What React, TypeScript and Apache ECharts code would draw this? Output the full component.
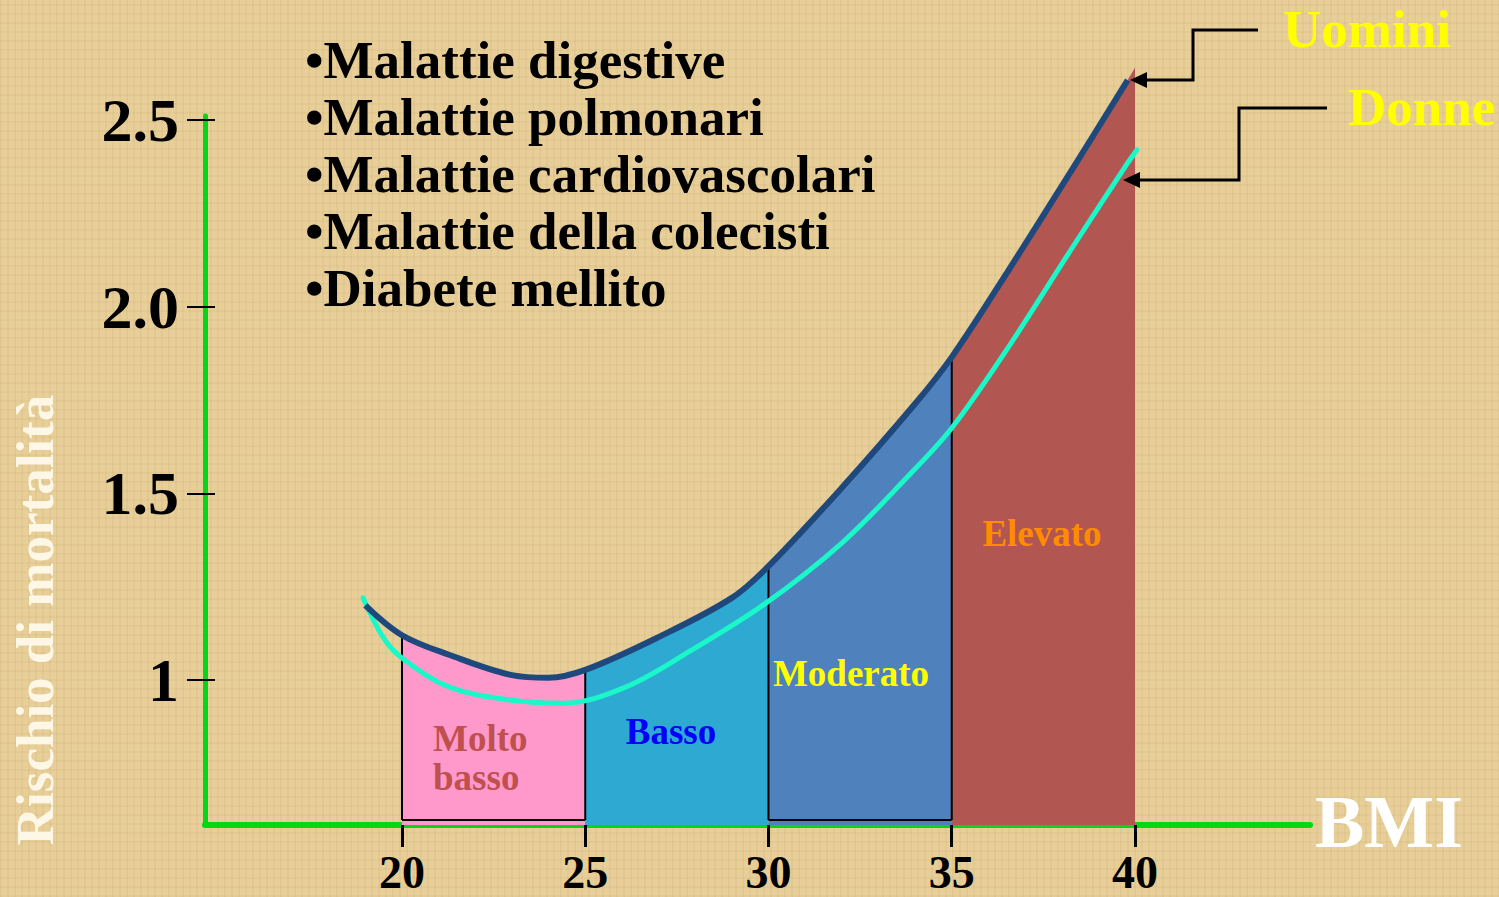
import React, { useEffect, useRef } from "react";
import * as echarts from "echarts";

// ---- data ----
const xTicks = [20, 25, 30, 35, 40];
const yTicks = [1, 1.5, 2, 2.5];

const bmiUomini = [19, 20, 21.3, 23, 24, 25, 27, 29, 30, 32, 34, 35, 36.5, 38.3, 39.8];
const rischioUomini = [1.2, 1.12, 1.067, 1.013, 1.006, 1.027, 1.115, 1.22, 1.305, 1.515, 1.74, 1.865, 2.09, 2.37, 2.607];

const bmiDonne = [18.94, 19.5, 20, 21.3, 23, 24.4, 26.1, 27.9, 29.9, 32, 33.8, 35, 36.5, 38.3, 39.8, 40.05];
const rischioDonne = [1.22, 1.112, 1.059, 0.981, 0.946, 0.938, 0.981, 1.08, 1.204, 1.367, 1.545, 1.675, 1.885, 2.16, 2.385, 2.42];

const bandEdges = [20, 25, 30, 35, 40];
const bandNames = ["Molto basso", "Basso", "Moderato", "Elevato"];
const bandColors = ["#FF99CC", "#2EAAD2", "#4F81BD", "#B15650"];
const elevatoTip = 2.64;
const baseLevel = 0.625;

const serif = '"Liberation Serif", "Times New Roman", serif';
const SMOOTH = 0.35;

function buildOption() {
  const uPts = bmiUomini.map((x, i) => [x, rischioUomini[i]]);
  const dPts = bmiDonne.map((x, i) => [x, rischioDonne[i]]);

  const bandSeries = bandNames.map((name, i) => {
    const lo = bandEdges[i];
    const hi = bandEdges[i + 1];
    const pts = uPts.filter((p) => p[0] >= lo && p[0] <= hi);
    if (i === bandNames.length - 1) pts.push([hi, elevatoTip]);
    return {
      name,
      type: "line",
      data: pts,
      smooth: SMOOTH,
      symbol: "none",
      clip: false,
      lineStyle: { width: 0, color: bandColors[i] },
      areaStyle: { color: bandColors[i], opacity: 1, origin: "start" },
      z: 1,
      silent: true,
    };
  });

  const borderSeries = bandEdges.slice(0, 4).map((x) => {
    const idx = bmiUomini.indexOf(x);
    return {
      type: "line",
      data: [
        [x, baseLevel],
        [x, rischioUomini[idx]],
      ],
      symbol: "none",
      clip: false,
      lineStyle: { color: "#000", width: 2 },
      z: 2,
      silent: true,
    };
  });

  const bottomBorders = [
    [[20, baseLevel], [25, baseLevel]],
    [[30, baseLevel], [35, baseLevel]],
  ].map((d) => ({
    type: "line",
    data: d,
    symbol: "none",
    lineStyle: { color: "#000", width: 2 },
    z: 2,
    silent: true,
  }));

  const axisBase = {
    type: "value",
    min: 0.6116,
    max: 2.5109,
    splitLine: { show: false },
  };

  return {
    animation: false,
    backgroundColor: "transparent",
    grid: { left: 205, right: 189, top: 116, bottom: 72 },
    xAxis: {
      type: "value",
      min: 14.625,
      max: 44.775,
      splitLine: { show: false },
      axisLine: { show: true, onZero: false, lineStyle: { color: "#06D615", width: 6 } },
      axisTick: { show: true, customValues: xTicks, length: 22, lineStyle: { color: "#000", width: 3 } },
      axisLabel: {
        customValues: xTicks,
        color: "#000",
        fontFamily: serif,
        fontWeight: "bold",
        fontSize: 46,
        margin: 24,
      },
    },
    yAxis: [
      {
        ...axisBase,
        axisLine: { show: true, onZero: false, lineStyle: { color: "#06D615", width: 5 } },
        axisTick: { show: true, customValues: yTicks, length: 18, lineStyle: { color: "#000", width: 2 } },
        axisLabel: {
          customValues: yTicks,
          formatter: (v: number) => (v === 1 ? "1" : v.toFixed(1)),
          color: "#000",
          fontFamily: serif,
          fontWeight: "bold",
          fontSize: 62,
          margin: 26,
        },
      },
      {
        ...axisBase,
        position: "left",
        axisLine: { show: false, onZero: false },
        axisTick: { show: true, inside: true, customValues: yTicks, length: 10, lineStyle: { color: "#000", width: 2 } },
        axisLabel: { show: false },
      },
    ],
    series: [
      ...bandSeries,
      ...borderSeries,
      ...bottomBorders,
      {
        name: "Donne",
        type: "line",
        data: dPts,
        smooth: SMOOTH,
        symbol: "none",
        clip: false,
        lineStyle: { color: "#1AF7C9", width: 5, cap: "round" },
        z: 3,
      },
      {
        name: "Uomini",
        type: "line",
        data: uPts,
        smooth: SMOOTH,
        symbol: "none",
        clip: false,
        lineStyle: { color: "#1F497D", width: 6 },
        z: 4,
      },
    ],
    graphic: [
      ...[
        "•Malattie digestive",
        "•Malattie polmonari",
        "•Malattie cardiovascolari",
        "•Malattie della colecisti",
        "•Diabete mellito",
      ].map((t, i) => ({
        type: "text",
        x: 305,
        y: 60 + i * 57,
        style: { text: t, fill: "#000", font: `bold 53px ${serif}`, verticalAlign: "middle" },
      })),
      {
        type: "text",
        x: 35,
        y: 620,
        rotation: Math.PI / 2,
        style: {
          text: "Rischio di mortalità",
          fill: "rgba(255,251,238,0.92)",
          font: `bold 53px ${serif}`,
          align: "center",
          verticalAlign: "middle",
        },
      },
      {
        type: "text",
        x: 1315,
        y: 822,
        style: { text: "BMI", fill: "#FFFFFF", font: `bold 74px ${serif}`, verticalAlign: "middle" },
      },
      {
        type: "text",
        x: 1283,
        y: 29,
        style: { text: "Uomini", fill: "#FFFF00", font: `bold 53px ${serif}`, verticalAlign: "middle" },
      },
      {
        type: "text",
        x: 1348,
        y: 107,
        style: { text: "Donne", fill: "#FFFF00", font: `bold 53px ${serif}`, verticalAlign: "middle" },
      },
      {
        type: "polyline",
        shape: { points: [[1258, 30], [1193, 30], [1193, 80], [1145, 80]] },
        style: { stroke: "#000", lineWidth: 3, fill: null },
        z: 10,
      },
      { type: "polygon", shape: { points: [[1130, 80], [1147, 72], [1147, 88]] }, style: { fill: "#000" }, z: 10 },
      {
        type: "polyline",
        shape: { points: [[1327, 108], [1239, 108], [1239, 180], [1138, 180]] },
        style: { stroke: "#000", lineWidth: 3, fill: null },
        z: 10,
      },
      { type: "polygon", shape: { points: [[1123, 180], [1140, 172], [1140, 188]] }, style: { fill: "#000" }, z: 10 },
      {
        type: "text",
        x: 433,
        y: 738,
        style: { text: "Molto", fill: "#C0504D", font: `bold 37px ${serif}`, verticalAlign: "middle" },
        z: 10,
      },
      {
        type: "text",
        x: 433,
        y: 777,
        style: { text: "basso", fill: "#C0504D", font: `bold 37px ${serif}`, verticalAlign: "middle" },
        z: 10,
      },
      {
        type: "text",
        x: 671,
        y: 731,
        style: { text: "Basso", fill: "#0000FF", font: `bold 37px ${serif}`, align: "center", verticalAlign: "middle" },
        z: 10,
      },
      {
        type: "text",
        x: 851,
        y: 673,
        style: { text: "Moderato", fill: "#FFFF00", font: `bold 37px ${serif}`, align: "center", verticalAlign: "middle" },
        z: 10,
      },
      {
        type: "text",
        x: 1042,
        y: 533,
        style: { text: "Elevato", fill: "#FF8C00", font: `bold 37px ${serif}`, align: "center", verticalAlign: "middle" },
        z: 10,
      },
    ],
  };
}

export default function App() {
  const ref = useRef<HTMLDivElement>(null);
  useEffect(() => {
    if (!ref.current) return;
    const chart = echarts.init(ref.current, null, { renderer: "svg" });
    chart.setOption(buildOption() as any);
    return () => chart.dispose();
  }, []);
  return (
    <div
      ref={ref}
      style={{
        position: "absolute",
        left: 0,
        top: 0,
        width: 1499,
        height: 897,
        background:
          "repeating-linear-gradient(90deg, rgba(150,110,40,0.07) 0px, rgba(150,110,40,0.07) 2px, rgba(0,0,0,0) 2px, rgba(0,0,0,0) 7px)," +
          "repeating-linear-gradient(0deg, rgba(150,110,40,0.06) 0px, rgba(150,110,40,0.06) 2px, rgba(0,0,0,0) 2px, rgba(0,0,0,0) 9px)," +
          "#E8CF99",
      }}
    />
  );
}
